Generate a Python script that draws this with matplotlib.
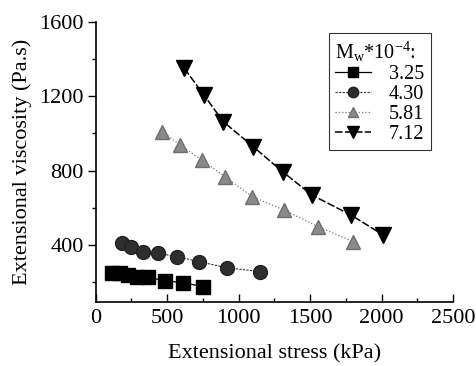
import numpy as np
import matplotlib.pyplot as plt
from matplotlib.ticker import MultipleLocator

plt.rcParams['font.family'] = 'Liberation Serif'
plt.rcParams['mathtext.fontset'] = 'custom'
plt.rcParams['mathtext.rm'] = 'Liberation Serif'
plt.rcParams['mathtext.it'] = 'Liberation Serif'

# Mw*10^-4 = 3.25
x_325 = [116, 170, 228, 287, 368, 484, 608, 748]
y_325 = [251, 248, 239, 230, 227, 207, 198, 176]
# Mw*10^-4 = 4.30
x_430 = [182, 245, 328, 437, 570, 724, 915, 1148]
y_430 = [409, 388, 364, 355, 337, 310, 278, 257]
# Mw*10^-4 = 5.81
x_581 = [466, 590, 741, 904, 1095, 1316, 1556, 1800]
y_581 = [1009, 937, 857, 767, 660, 588, 498, 418]
# Mw*10^-4 = 7.12
x_712 = [620, 757, 892, 1102, 1307, 1510, 1785, 2010]
y_712 = [1349, 1206, 1063, 928, 794, 669, 561, 454]

fig = plt.figure(figsize=(4.77, 3.66), dpi=100)
ax = fig.add_axes([0.2006, 0.1757, 0.7494, 0.765])

ax.plot(x_325, y_325, '-', color='k', lw=0.9, marker='s', ms=9.5,
        mfc='k', mec='k', label='3.25')
ax.plot(x_430, y_430, '--', dashes=(2, 1.2), color='#333333', lw=0.8, marker='o', ms=10,
        mfc='#2e2e2e', mec='#222222', label='4.30')
ax.plot(x_581, y_581, ':', color='#777777', lw=0.9, marker='^', ms=10.5,
        mfc='#8a8a8a', mec='#6e6e6e', label='5.81')
ax.plot(x_712, y_712, '--', dashes=(5, 1.5), color='k', lw=1.1, marker='v', ms=11,
        mfc='k', mec='k', label='7.12')

ax.set_xlim(0, 2500)
ax.set_ylim(95, 1600)
ax.xaxis.set_major_locator(MultipleLocator(500))
ax.xaxis.set_minor_locator(MultipleLocator(250))
ax.yaxis.set_major_locator(MultipleLocator(400))
ax.yaxis.set_minor_locator(MultipleLocator(200))
ax.set_yticks([400, 800, 1200, 1600])

ax.spines['top'].set_visible(False)
ax.spines['right'].set_visible(False)
ax.spines['left'].set_linewidth(1.2)
ax.spines['bottom'].set_linewidth(1.2)
ax.tick_params(axis='x', which='both', direction='in', labelsize=16, pad=5)
ax.tick_params(axis='y', which='both', direction='out', labelsize=16, pad=3)
ax.tick_params(which='major', length=5.5, width=1)
ax.tick_params(which='minor', length=3, width=1)

ax.set_xlabel('Extensional stress (kPa)', fontsize=16, labelpad=12)
ax.set_ylabel('Extensional viscosity (Pa.s)', fontsize=16, labelpad=5)

leg = ax.legend(title=r'M$_{\mathrm{w}}$*10$^{-4}$:', loc='upper right',
                bbox_to_anchor=(0.937, 0.958), fontsize=14.5, title_fontsize=14.5,
                frameon=True, fancybox=False, edgecolor='k', handlelength=1.8,
                handletextpad=0.9, borderpad=0.3, borderaxespad=0, labelspacing=0.05,
                alignment='left', markerscale=0.75)
leg.get_frame().set_linewidth(0.8)

fig.savefig('out.png', dpi=100)
